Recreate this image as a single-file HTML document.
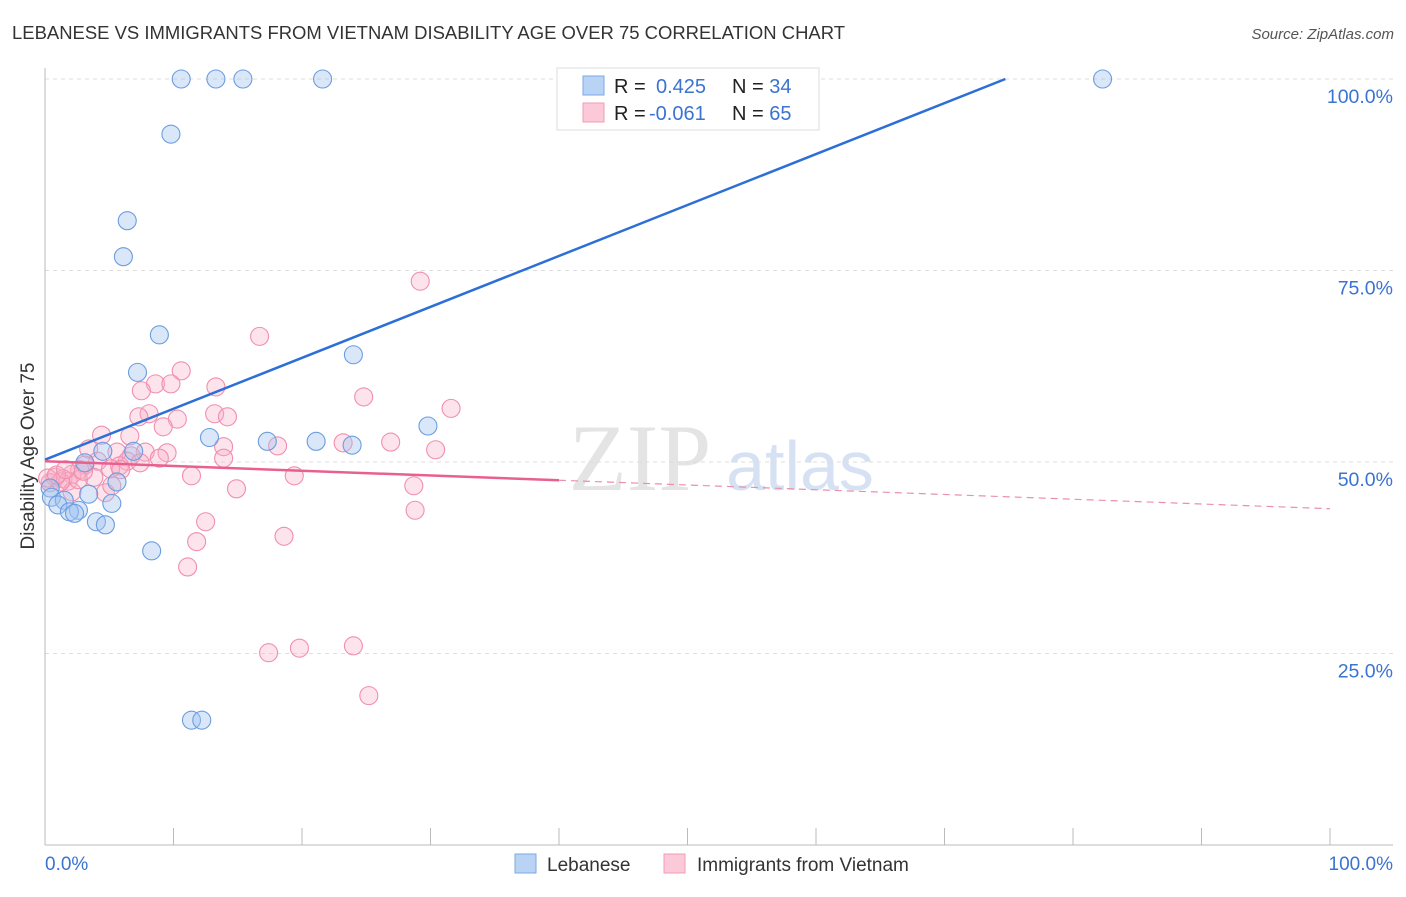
<!DOCTYPE html>
<html><head><meta charset="utf-8"><style>
body{margin:0;background:#fff;font-family:"Liberation Sans",sans-serif;}
</style></head><body>
<svg id="chart" width="1406" height="892" xmlns="http://www.w3.org/2000/svg">
<text x="12" y="39" font-size="18" fill="#333" textLength="833" lengthAdjust="spacingAndGlyphs">LEBANESE VS IMMIGRANTS FROM VIETNAM DISABILITY AGE OVER 75 CORRELATION CHART</text>
<text x="1394" y="39" font-size="15" fill="#555" font-style="italic" text-anchor="end">Source: ZipAtlas.com</text>
<text x="640" y="490" font-size="95" fill="#e4e4e4" font-family="Liberation Serif,serif" text-anchor="middle">ZIP</text>
<text x="800" y="490" font-size="70" fill="#d6e2f3" text-anchor="middle">atlas</text>
<g id="grid"></g><g id="pts"></g><g id="lines"></g>
<text transform="translate(34,456) rotate(-90)" font-size="19" fill="#333" text-anchor="middle">Disability Age Over 75</text>
<text x="45" y="870" font-size="19" fill="#3b73d1">0.0%</text>
<text x="1393" y="870" font-size="19" fill="#3b73d1" text-anchor="end">100.0%</text>
<g>
<rect x="557" y="68" width="262" height="62" fill="#fff" stroke="#ddd"/>
<rect x="583" y="76" width="21" height="19" fill="#b9d3f5" stroke="#7aa8e6"/>
<rect x="583" y="103" width="21" height="19" fill="#fbc9d8" stroke="#f19bb8"/>
<text x="614" y="93" font-size="20" fill="#222">R = <tspan fill="#3b73d1" x="656">0.425</tspan><tspan fill="#222" x="732">N = </tspan><tspan fill="#3b73d1">34</tspan></text>
<text x="614" y="120" font-size="20" fill="#222">R = <tspan fill="#3b73d1" x="649">-0.061</tspan><tspan fill="#222" x="732">N = </tspan><tspan fill="#3b73d1">65</tspan></text>
</g>
<g>
<rect x="515" y="854" width="21" height="19" fill="#b9d3f5" stroke="#7aa8e6"/>
<text x="547" y="871" font-size="19" fill="#333">Lebanese</text>
<rect x="664" y="854" width="21" height="19" fill="#fbc9d8" stroke="#f19bb8"/>
<text x="697" y="871" font-size="19" fill="#333">Immigrants from Vietnam</text>
</g>
</svg>
<script>
const yTicks=[25,50,75,100];
const yTickLabels=["25.0%","50.0%","75.0%","100.0%"];
const blueX=[10.6,13.3,15.4,21.6,82.3,9.8,6.4,6.1,8.9,24.0,7.2,29.8,12.8,17.3,21.1,23.9,4.5,6.9,3.1,5.6,3.4,0.4,0.5,1.5,1.0,2.6,1.9,2.3,4.0,4.7,5.2,8.3,11.4,12.2];
const blueY=[100,100,100,100,100,92.8,81.5,76.8,66.6,64.0,61.7,54.7,53.2,52.7,52.7,52.2,51.4,51.4,49.9,47.4,45.8,46.6,45.4,45.0,44.4,43.7,43.5,43.3,42.2,41.8,44.6,38.4,16.3,16.3];
const pinkX=[29.2,16.7,10.6,8.6,9.8,13.3,7.5,24.8,31.6,8.1,10.3,7.3,13.2,14.2,9.2,6.6,4.4,23.2,26.9,18.1,13.9,3.4,5.6,7.8,30.4,9.5,6.7,8.9,13.9,4.1,6.4,5.8,3.1,5.1,2.7,7.4,5.9,11.4,19.4,2.1,3.8,0.8,1.4,1.8,0.4,28.7,14.9,4.7,2.1,28.8,12.5,18.6,11.8,11.1,17.4,19.8,24.0,25.2,1.2,0.2,0.9,2.6,5.2,3.0,1.6];
const pinkY=[73.6,66.4,61.9,60.2,60.2,59.8,59.3,58.5,57.0,56.3,55.6,55.9,56.3,55.9,54.6,53.4,53.5,52.5,52.6,52.1,52.0,51.7,51.3,51.3,51.6,51.2,50.8,50.5,50.5,50.1,50.1,49.5,49.6,49.1,49.0,49.9,49.0,48.2,48.2,48.4,48.0,48.0,47.8,47.5,47.3,46.9,46.5,46.0,46.1,43.7,42.2,40.3,39.6,36.3,25.1,25.7,26.0,19.5,47.4,47.9,48.3,47.7,46.9,48.8,49.0];
const blueTrend=[50.3,116.8]; // y at x=0, x=100
const pinkTrend=[50.1,43.9];
const sx=v=>45+v*12.85, sy=v=>845-v*7.66;
const NS="http://www.w3.org/2000/svg";
function mk(tag,attrs,parent){const e=document.createElementNS(NS,tag);for(const k in attrs)e.setAttribute(k,attrs[k]);parent.appendChild(e);return e;}
const grid=document.getElementById('grid');
yTicks.forEach((t,i)=>{
 const l=mk('line',{x1:45,x2:1393,y1:sy(t),y2:sy(t),stroke:'#ddd','stroke-dasharray':'4,4'},grid);
 
 
 const tx=mk('text',{x:1393,y:sy(t)+24,'font-size':19.5,fill:'#3b73d1','text-anchor':'end'},grid);
 tx.textContent=yTickLabels[i];
 
 
});
const ax=mk('line',{x1:45,x2:1393,y1:845,y2:845,stroke:'#bbb'},grid);


const ay=mk('line',{x1:45,x2:45,y1:68,y2:845,stroke:'#bbb'},grid);


for(let i=0;i<=10;i++){const tk=mk('line',{x1:sx(i*10),x2:sx(i*10),y1:828,y2:845,stroke:'#bbb'},grid);
 
 }
const pts=document.getElementById('pts');
pinkX.forEach((x,i)=>{const c=mk('circle',{cx:sx(x),cy:sy(pinkY[i]),r:9,fill:'rgba(248,175,198,0.35)',stroke:'#f08fb0','stroke-width':1.1},pts);
 
 });
blueX.forEach((x,i)=>{const c=mk('circle',{cx:sx(x),cy:sy(blueY[i]),r:9,fill:'rgba(160,196,240,0.4)',stroke:'#6b9de0','stroke-width':1.1},pts);
 
 });
const lines=document.getElementById('lines');
const xEnd=(100-blueTrend[0])/(blueTrend[1]-blueTrend[0])*100;
const bl=mk('line',{x1:sx(0),y1:sy(blueTrend[0]),x2:sx(xEnd),y2:sy(100),stroke:'#2c6fd6','stroke-width':2.5},lines);


const pAt=x=>pinkTrend[0]+(pinkTrend[1]-pinkTrend[0])*x/100;
const pl=mk('line',{x1:sx(0),y1:sy(pAt(0)),x2:sx(40),y2:sy(pAt(40)),stroke:'#e8608f','stroke-width':2.5},lines);


const pd=mk('line',{x1:sx(40),y1:sy(pAt(40)),x2:sx(100),y2:sy(pAt(100)),stroke:'#eb8fae','stroke-width':1.2,'stroke-dasharray':'7,5'},lines);


</script>
</body></html>
